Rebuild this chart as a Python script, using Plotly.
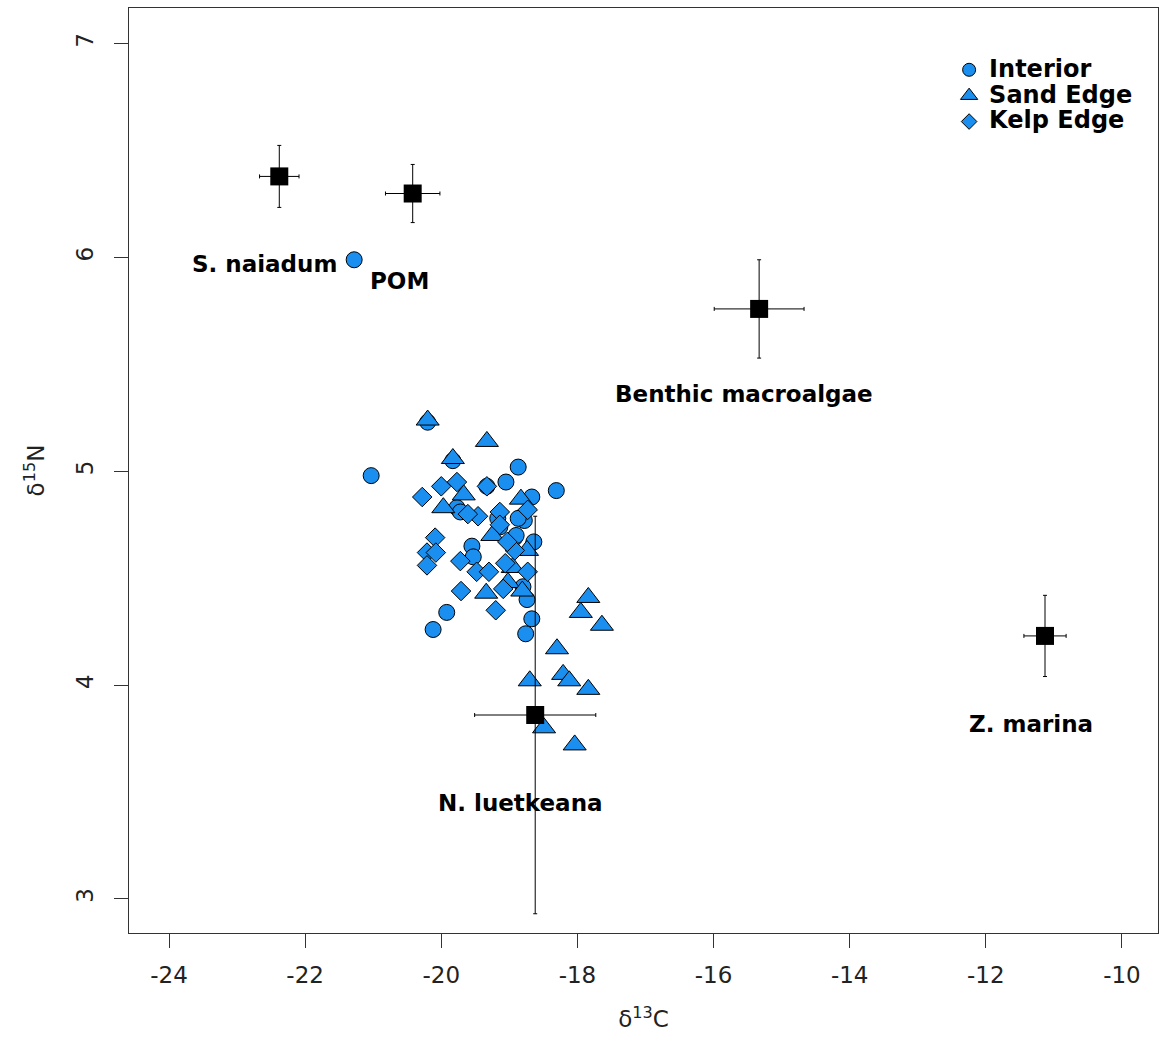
import plotly.graph_objects as go

# Consumer samples (delta13C, delta15N)
interior_x = [-21.28, -21.03, -20.20, -19.83, -19.33, -19.05, -18.87, -18.67, -18.31,
              -19.77, -19.72, -18.78, -19.14, -18.92, -18.64, -19.55, -19.53, -18.80,
              -18.74, -19.92, -20.12, -18.67, -18.76, -18.90, -19.17, -18.87]
interior_y = [5.99, 4.98, 5.23, 5.05, 4.93, 4.95, 5.02, 4.88, 4.91,
              4.83, 4.81, 4.77, 4.74, 4.69, 4.67, 4.65, 4.60, 4.46,
              4.40, 4.34, 4.26, 4.31, 4.24, 4.70, 4.78, 4.78]

sand_x = [-20.20, -19.33, -19.83, -19.67, -19.97, -18.83, -19.25, -18.74, -19.34,
          -18.95, -19.02, -18.81, -18.70, -17.84, -17.95, -17.64, -18.30, -18.21,
          -18.12, -17.84, -18.49, -18.04]
sand_y = [5.24, 5.14, 5.06, 4.89, 4.83, 4.87, 4.70, 4.63, 4.43,
          4.55, 4.48, 4.44, 4.02, 4.41, 4.34, 4.28, 4.17, 4.05,
          4.02, 3.98, 3.80, 3.72]

kelp_x = [-20.28, -20.00, -19.77, -19.33, -19.46, -19.14, -18.73, -19.61, -20.09,
          -20.21, -20.08, -20.21, -19.72, -19.48, -19.30, -19.06, -18.73, -19.71,
          -19.09, -19.20, -18.92, -19.03, -19.14]
kelp_y = [4.88, 4.93, 4.95, 4.93, 4.79, 4.81, 4.82, 4.80, 4.69,
          4.62, 4.62, 4.56, 4.58, 4.53, 4.53, 4.57, 4.53, 4.44,
          4.45, 4.35, 4.63, 4.67, 4.75]

# Sources: mean +/- SD
src_names = ["S. naiadum", "POM", "Benthic macroalgae", "Z. marina", "N. luetkeana"]
src_x = [-22.38, -20.42, -15.33, -11.13, -18.62]
src_y = [6.38, 6.30, 5.76, 4.23, 3.86]
src_xerr = [0.29, 0.40, 0.66, 0.31, 0.89]
src_yerr = [0.145, 0.136, 0.23, 0.19, 0.93]
label_x = [-22.60, -20.62, -15.55, -11.34, -18.83]
label_y = [5.97, 5.89, 5.36, 3.82, 3.45]

x_ticks = [-24, -22, -20, -18, -16, -14, -12, -10]
y_ticks = [3, 4, 5, 6, 7]

BLUE = "#1a8ff0"
FONT = "DejaVu Sans, Liberation Sans, Arial, sans-serif"

fig = go.Figure()

groups = [
    ("Interior", interior_x, interior_y, "circle", 16, 13),
    ("Sand Edge", sand_x, sand_y, "triangle-up", 20, 15),
    ("Kelp Edge", kelp_x, kelp_y, "diamond", 15, 12),
]
for name, xs, ys, sym, sz, lsz in groups:
    fig.add_trace(go.Scatter(
        x=xs, y=ys, mode="markers", name=name, showlegend=False,
        marker=dict(symbol=sym, size=sz, color=BLUE, line=dict(color="black", width=1)),
    ))

for name, xs, ys, sym, sz, lsz in groups:
    fig.add_trace(go.Scatter(
        x=[None], y=[None], mode="markers",
        name=f"<span style='font-size:24px'>{name}</span>", showlegend=True,
        marker=dict(symbol=sym, size=lsz, color=BLUE, line=dict(color="black", width=1)),
    ))

fig.add_trace(go.Scatter(
    x=src_x, y=src_y, mode="markers", showlegend=False,
    marker=dict(symbol="square", size=18, color="black"),
    error_x=dict(type="data", array=src_xerr, color="black", thickness=1, width=2),
    error_y=dict(type="data", array=src_yerr, color="black", thickness=1, width=2),
))

for nm, lx, ly in zip(src_names, label_x, label_y):
    fig.add_annotation(x=lx, y=ly, text=f"<b>{nm}</b>", showarrow=False,
                       font=dict(family=FONT, size=23, color="black"),
                       xanchor="center", yanchor="middle")

fig.update_xaxes(
    range=[-24.588, -9.47], tickvals=x_ticks, ticktext=[str(v) for v in x_ticks],
    ticks="outside", ticklen=14, tickwidth=1, tickcolor="#333",
    showline=True, linecolor="#333", linewidth=1, mirror=True,
    showgrid=False, zeroline=False,
    tickfont=dict(family=FONT, size=23, color="#222"),
    ticklabelstandoff=7,
    title=dict(text="δ<sup>13</sup>C", font=dict(family=FONT, size=23, color="#222"), standoff=24),
)
fig.update_yaxes(
    range=[2.84, 7.168], tickvals=y_ticks, ticktext=[str(v) for v in y_ticks],
    ticks="outside", ticklen=14, tickwidth=1, tickcolor="#333", tickangle=-90,
    showline=True, linecolor="#333", linewidth=1, mirror=True,
    showgrid=False, zeroline=False,
    tickfont=dict(family=FONT, size=23, color="#222"),
    ticklabelstandoff=12,
    title=dict(text="δ<sup>15</sup>N", font=dict(family=FONT, size=23, color="#222"), standoff=20),
)

fig.update_layout(
    width=1159, height=1042,
    margin=dict(l=129, r=1, t=8, b=109),
    plot_bgcolor="white", paper_bgcolor="white",
    showlegend=True,
    legend=dict(x=0.797, y=0.9526, xanchor="left", yanchor="top",
                font=dict(family=FONT, size=17.6, color="black", weight="bold"),
                bgcolor="rgba(0,0,0,0)", borderwidth=0, tracegroupgap=0),
)

fig.write_html("out.html")
